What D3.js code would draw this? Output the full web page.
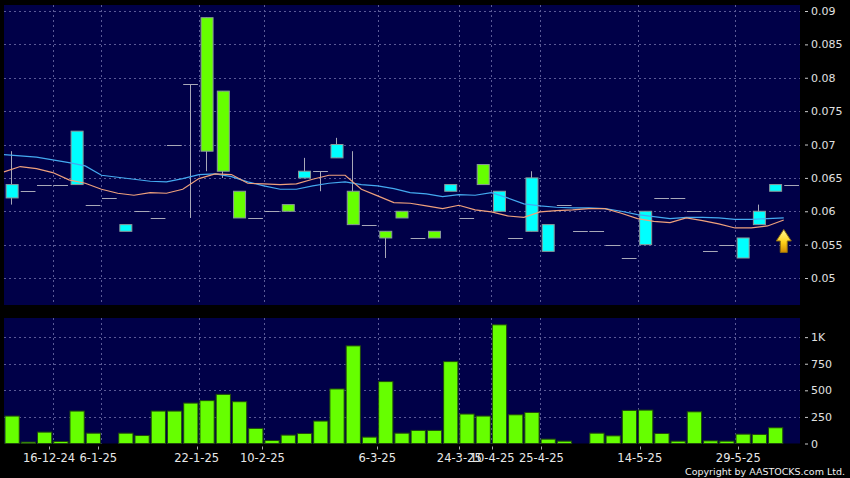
<!DOCTYPE html>
<html><head><meta charset="utf-8">
<script src="https://cdn.jsdelivr.net/npm/d3@7"></script>
<style>html,body{margin:0;padding:0;background:#000;}svg{display:block;}</style>
</head><body><svg id="c" width="850" height="478"></svg>
<script>
// ---- data ----
const opens  = [0.062,0.063,0.064,0.064,0.064,0.061,0.062,0.057,0.060,0.059,0.070,0.079,0.089,0.078,0.063,0.059,0.060,0.061,0.065,0.066,0.068,0.063,0.058,0.057,0.060,0.056,0.057,0.063,0.059,0.067,0.060,0.056,0.057,0.054,0.061,0.057,0.057,0.055,0.053,0.055,0.062,0.062,0.060,0.054,0.055,0.053,0.058,0.063,0.064];
const highs  = [0.069,0.063,0.064,0.064,0.072,0.061,0.062,0.058,0.060,0.059,0.070,0.079,0.089,0.078,0.063,0.059,0.060,0.061,0.068,0.066,0.071,0.069,0.058,0.057,0.060,0.056,0.057,0.064,0.059,0.067,0.063,0.056,0.066,0.058,0.061,0.057,0.057,0.055,0.053,0.060,0.062,0.062,0.060,0.054,0.055,0.056,0.061,0.064,0.064];
const lows   = [0.061,0.063,0.064,0.064,0.064,0.061,0.062,0.057,0.060,0.059,0.070,0.059,0.066,0.065,0.059,0.059,0.060,0.060,0.065,0.063,0.068,0.058,0.058,0.053,0.059,0.056,0.056,0.063,0.059,0.064,0.060,0.056,0.057,0.054,0.061,0.057,0.057,0.055,0.053,0.055,0.062,0.062,0.060,0.054,0.055,0.053,0.058,0.063,0.064];
const closes = [0.064,0.063,0.064,0.064,0.072,0.061,0.062,0.058,0.060,0.059,0.070,0.079,0.069,0.066,0.059,0.059,0.060,0.060,0.066,0.066,0.070,0.058,0.058,0.056,0.059,0.056,0.056,0.064,0.059,0.064,0.063,0.056,0.065,0.058,0.061,0.057,0.057,0.055,0.053,0.060,0.062,0.062,0.060,0.054,0.055,0.056,0.060,0.064,0.064];
const volumes = [258,13,107,19,305,97,0,97,75,305,305,380,403,462,393,142,28,79,94,211,513,918,60,582,97,123,123,770,277,258,1116,270,292,41,22,0,97,72,311,314,94,22,298,25,22,88,85,148,0];
const maBlue = [0.0685,0.0683,0.0681,0.0677,0.0673,0.0668,0.0654,0.0651,0.0648,0.0645,0.0644,0.0649,0.0655,0.0656,0.0652,0.0644,0.0638,0.0633,0.0633,0.0638,0.0642,0.0644,0.0640,0.0638,0.0634,0.0628,0.0626,0.0622,0.0625,0.0624,0.0628,0.0620,0.0611,0.0608,0.0606,0.0605,0.0605,0.0604,0.0600,0.0595,0.0592,0.0589,0.0591,0.0591,0.0590,0.0588,0.0588,0.0589,0.0590];
const maOrange = [0.0659,0.0667,0.0664,0.0658,0.0647,0.0642,0.0633,0.0627,0.0624,0.0628,0.0627,0.0633,0.0649,0.0656,0.0655,0.0642,0.0641,0.0640,0.0641,0.0648,0.0654,0.0654,0.0633,0.0623,0.0613,0.0612,0.0608,0.0604,0.0609,0.0602,0.0599,0.0593,0.0591,0.0599,0.0601,0.0602,0.0604,0.0604,0.0597,0.0589,0.0585,0.0583,0.0590,0.0586,0.0581,0.0575,0.0575,0.0578,0.0587];
const dateTickIdx = [3,6,12,16,23,28,30,33,39,45];
const dateTickLabels = ["16-12-24","6-1-25","22-1-25","10-2-25","6-3-25","24-3-25","10-4-25","25-4-25","14-5-25","29-5-25"];
const priceTicks = [0.05,0.055,0.06,0.065,0.07,0.075,0.08,0.085,0.09];
const priceTickLabels = ["0.05","0.055","0.06","0.065","0.07","0.075","0.08","0.085","0.09"];
const volTicks = [0,250,500,750,1000];
const volTickLabels = ["0","250","500","750","1K"];

// ---- layout ----
const L = 4, R = 800, mT = 5, mB = 305, vT = 318, vB = 443.5;
const FONT = "DejaVu Sans, Verdana, sans-serif";
const n = opens.length;
const svg = d3.select("#c");
svg.append("rect").attr("width",850).attr("height",478).attr("fill","#000");

const x = d3.scaleBand().domain(d3.range(n)).range([L, R]);
const xTick = d3.scaleLinear().domain([0, n]).range([-0.2, 803.9]);
const yP = d3.scaleLinear().domain([0.04596, 0.0909]).range([mB, mT]);
const yV = d3.scaleLinear().domain([0, 1180]).range([vB, vT]);
const bw = x.bandwidth();
const cx = i => x(i) + bw/2;

const BG = "#000048", GRID = "#5a5a96";
svg.append("rect").attr("x",L).attr("y",mT).attr("width",R-L).attr("height",mB-mT).attr("fill",BG);
svg.append("rect").attr("x",L).attr("y",vT).attr("width",R-L).attr("height",vB-vT).attr("fill",BG);

// grid
const g = svg.append("g").attr("stroke",GRID).attr("stroke-width",1).attr("stroke-dasharray","2,3");
g.selectAll(".hp").data(priceTicks).join("line")
  .attr("x1",L).attr("x2",R).attr("y1",d=>Math.round(yP(d))+0.5).attr("y2",d=>Math.round(yP(d))+0.5);
g.selectAll(".hv").data(volTicks.slice(1)).join("line")
  .attr("x1",L).attr("x2",R).attr("y1",d=>Math.round(yV(d))+0.5).attr("y2",d=>Math.round(yV(d))+0.5);
dateTickIdx.forEach(k=>{
  const xx = Math.round(x(k))+0.5;
  g.append("line").attr("x1",xx).attr("x2",xx).attr("y1",mT).attr("y2",mB);
  g.append("line").attr("x1",xx).attr("x2",xx).attr("y1",vT).attr("y2",vB);
});

// candles
const data = d3.range(n).map(i=>({i,o:opens[i],h:highs[i],l:lows[i],c:closes[i]}));
const cg = svg.append("g");
data.forEach(d=>{
  const xc = Math.round(cx(d.i)) - 0.5;
  if (d.h > Math.max(d.o,d.c) || d.l < Math.min(d.o,d.c)) {
    cg.append("line").attr("x1",xc).attr("x2",xc).attr("y1",yP(d.h)).attr("y2",yP(d.l))
      .attr("stroke","#a8a8b8").attr("stroke-width",1);
  }
  if (d.o === d.c) {
    cg.append("line").attr("x1",x(d.i)+0.5).attr("x2",x(d.i)+bw-1).attr("y1",Math.round(yP(d.c))+0.5).attr("y2",Math.round(yP(d.c))+0.5)
      .attr("stroke","#a8a8b8").attr("stroke-width",1);
  } else {
    const up = d.c > d.o;
    const top = yP(Math.max(d.o,d.c)), bot = yP(Math.min(d.o,d.c));
    cg.append("rect").attr("x",cx(d.i)-6).attr("width",12).attr("y",top).attr("height",bot-top)
      .attr("fill", up ? "#00ffff" : "#66ff00").attr("stroke","#8a9a9a").attr("stroke-width",1);
  }
});

// moving averages
const line = d3.line().x((d,i)=>x(i)).y(d=>yP(d));
svg.append("path").datum(maBlue).attr("d",line).attr("fill","none").attr("stroke","#44aaf0").attr("stroke-width",1.2);
svg.append("path").datum(maOrange).attr("d",line).attr("fill","none").attr("stroke","#eea07c").attr("stroke-width",1.2);

// arrow marker
const defs = svg.append("defs");
const grad = defs.append("linearGradient").attr("id","ag").attr("x1",0).attr("y1",0).attr("x2",0).attr("y2",1);
grad.append("stop").attr("offset","0%").attr("stop-color","#fff89a");
grad.append("stop").attr("offset","55%").attr("stop-color","#ffd21a");
grad.append("stop").attr("offset","100%").attr("stop-color","#d08a00");
const ax = x(n-1), ay = yP(maOrange[n-1]) + 9.5;
svg.append("path")
  .attr("d",`M${ax},${ay} L${ax+7.5},${ay+11.5} L${ax+3.5},${ay+11.5} L${ax+3.5},${ay+23} L${ax-3.5},${ay+23} L${ax-3.5},${ay+11.5} L${ax-7.5},${ay+11.5} Z`)
  .attr("fill","url(#ag)").attr("stroke","#8a6a10").attr("stroke-width",1);

// volume bars
svg.append("g").selectAll("rect").data(volumes).join("rect")
  .attr("x",(d,i)=>x(i)+1).attr("width",bw-2)
  .attr("y",d=>yV(d)).attr("height",d=>vB-yV(d))
  .attr("fill","#66ff00").attr("stroke","#214a0c").attr("stroke-width",1);

// right axes
const styleAxis = sel => {
  sel.select(".domain").remove();
  sel.selectAll(".tick line").attr("stroke","#cccccc");
  sel.selectAll(".tick text").attr("fill","#e0e0e0").attr("font-family",FONT).attr("font-size","11px");
};
svg.append("g").attr("transform",`translate(805,0)`)
  .call(d3.axisRight(yP).tickValues(priceTicks).tickFormat((d,i)=>priceTickLabels[i]).tickSize(3).tickPadding(3))
  .call(styleAxis);
svg.append("g").attr("transform",`translate(805,0)`)
  .call(d3.axisRight(yV).tickValues(volTicks).tickFormat((d,i)=>volTickLabels[i]).tickSize(3).tickPadding(3))
  .call(styleAxis);

// date axis
const dg = svg.append("g");
dateTickIdx.forEach((k,j)=>{
  const xx = Math.round(xTick(k))+0.5;
  dg.append("line").attr("x1",xx).attr("x2",xx).attr("y1",446.5).attr("y2",449.5).attr("stroke","#aaaaaa");
  dg.append("text").attr("x",xTick(k)).attr("y",462).attr("text-anchor","middle")
    .attr("fill","#e8e8e8").attr("font-family",FONT).attr("font-size","11.5px").text(dateTickLabels[j]);
});

svg.append("text").attr("x",845).attr("y",475).attr("text-anchor","end")
  .attr("fill","#f0f0f0").attr("font-family",FONT).attr("font-size","9.5px")
  .text("Copyright by AASTOCKS.com Ltd.");
</script></body></html>
